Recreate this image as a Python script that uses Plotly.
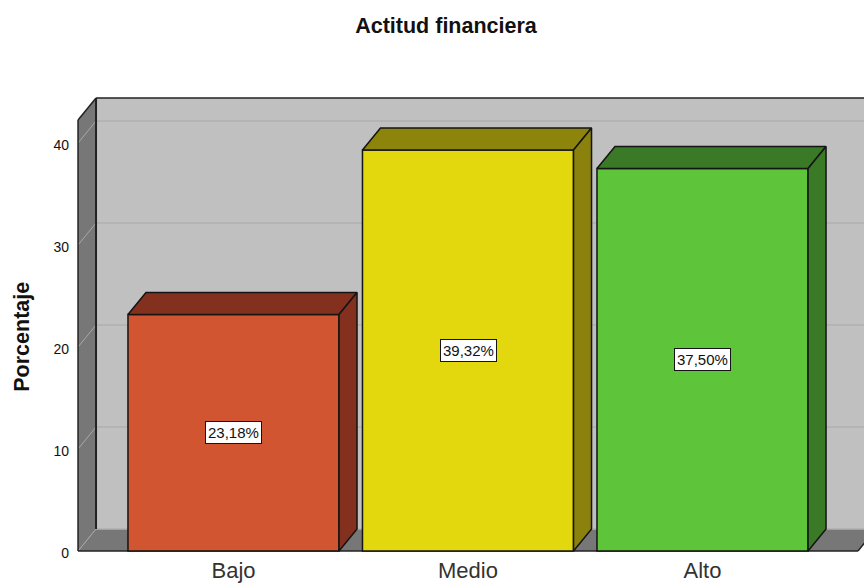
"""Actitud financiera: bar chart with a 3D box look, SPSS style."""
import plotly.graph_objects as go

categories = ["Bajo", "Medio", "Alto"]
values = [23.18, 39.32, 37.50]
labels = ["23,18%", "39,32%", "37,50%"]
y_ticks = [0, 10, 20, 30, 40]

front_colors = ["#D05530", "#E3D80E", "#5EC439"]
top_colors = ["#83301E", "#8D850B", "#3A7925"]
side_colors = ["#83301E", "#8A820C", "#3A7925"]

# scale of the picture, px per unit
PX_X = 234.5
PX_Y = 10.2
BAR_W = 0.9
DX = 18 / PX_X
DY = 22 / PX_Y
X_L = -0.663
X_R = 2.663
WALL_TOP = 42.25
FONT = "Liberation Sans"


def poly(pts):
    return "M " + " L ".join(f"{x},{y}" for x, y in pts) + " Z"


def area(pts, fill, line="rgba(0,0,0,0)", width=0):
    return dict(type="path", path=poly(pts), fillcolor=fill, layer="below",
                line=dict(color=line, width=width))


def seg(x0, y0, x1, y1, color, width):
    return dict(type="line", x0=x0, y0=y0, x1=x1, y1=y1, layer="below",
                line=dict(color=color, width=width))


fig = go.Figure()
fig.add_trace(go.Bar(
    x=[0, 1, 2], y=values, width=BAR_W, marker_color=front_colors,
    marker_line=dict(color="#141414", width=1.5), showlegend=False,
))

# top and side faces of each bar
for i, v in enumerate(values):
    x0, x1 = i - BAR_W / 2, i + BAR_W / 2
    fig.add_trace(go.Scatter(
        x=[x0, x0 + DX, x1 + DX, x1, x0], y=[v, v + DY, v + DY, v, v],
        mode="lines", fill="toself", fillcolor=top_colors[i],
        line=dict(color="#141414", width=1.5), showlegend=False,
    ))
    fig.add_trace(go.Scatter(
        x=[x1, x1 + DX, x1 + DX, x1, x1], y=[0, DY, v + DY, v, 0],
        mode="lines", fill="toself", fillcolor=side_colors[i],
        line=dict(color="#141414", width=1.5), showlegend=False,
    ))

shapes = [
    area([(X_L + DX, DY), (X_R + DX, DY), (X_R + DX, WALL_TOP + DY), (X_L + DX, WALL_TOP + DY)], "#C0C0C0"),
    area([(X_L, 0), (X_L + DX, DY), (X_L + DX, WALL_TOP + DY), (X_L, WALL_TOP)], "#777777"),
    area([(X_L, 0), (X_R, 0), (X_R + DX, DY), (X_L + DX, DY)], "#777777"),
]
for t in y_ticks:
    shapes.append(seg(X_L + DX, t + DY, X_R + DX, t + DY, "#B0B0B0", 1.5))
    shapes.append(seg(X_L, t, X_L + DX, t + DY, "#A8A8A8", 1))
shapes += [
    seg(X_L, 0, X_L, WALL_TOP, "#222222", 1.5),
    seg(X_L, WALL_TOP, X_L + DX, WALL_TOP + DY, "#222222", 1.5),
    seg(X_L + DX, DY, X_L + DX, WALL_TOP + DY, "#222222", 2),
    seg(X_L + DX, WALL_TOP + DY, X_R + DX, WALL_TOP + DY, "#222222", 1.5),
    seg(X_L, 0, X_R, 0, "#222222", 1.5),
    seg(X_R, 0, X_R + DX, DY, "#222222", 1.5),
]

annotations = [
    dict(x=i, y=v / 2, text=labels[i], showarrow=False, bgcolor="white",
         bordercolor="#141414", borderwidth=1, borderpad=2,
         font=dict(family=FONT, size=15, color="#111111"))
    for i, v in enumerate(values)
]
annotations.append(dict(
    xref="paper", yref="paper", x=-0.0605, y=0.472, xanchor="center", yanchor="middle",
    text="<b>Porcentaje</b>", textangle=-90, showarrow=False,
    font=dict(family=FONT, size=21.5, color="#111111"),
))

fig.update_layout(
    width=864, height=583, margin=dict(l=70, r=0, t=96, b=31),
    paper_bgcolor="white", plot_bgcolor="white", showlegend=False,
    title=dict(text="<b>Actitud financiera</b>", x=446 / 864, y=1 - 25.5 / 583,
               xanchor="center", yanchor="middle",
               font=dict(family=FONT, size=21.5, color="#111111")),
    xaxis=dict(range=[(70 - 233.5) / PX_X, (864 - 233.5) / PX_X], tickvals=[0, 1, 2],
               ticktext=categories, showgrid=False, zeroline=False, ticks="",
               ticklabelstandoff=3, automargin=False,
               tickfont=dict(family=FONT, size=22, color="#333333")),
    yaxis=dict(range=[-1 / PX_Y, 455 / PX_Y], tickvals=y_ticks, showgrid=False, automargin=False,
               zeroline=False, ticks="", ticklabelshift=2,
               tickfont=dict(family=FONT, size=14, color="#111111")),
    shapes=shapes, annotations=annotations,
)

fig.write_html("out.html", config=dict(displayModeBar=False),
               post_script="document.body.style.margin='0';")
